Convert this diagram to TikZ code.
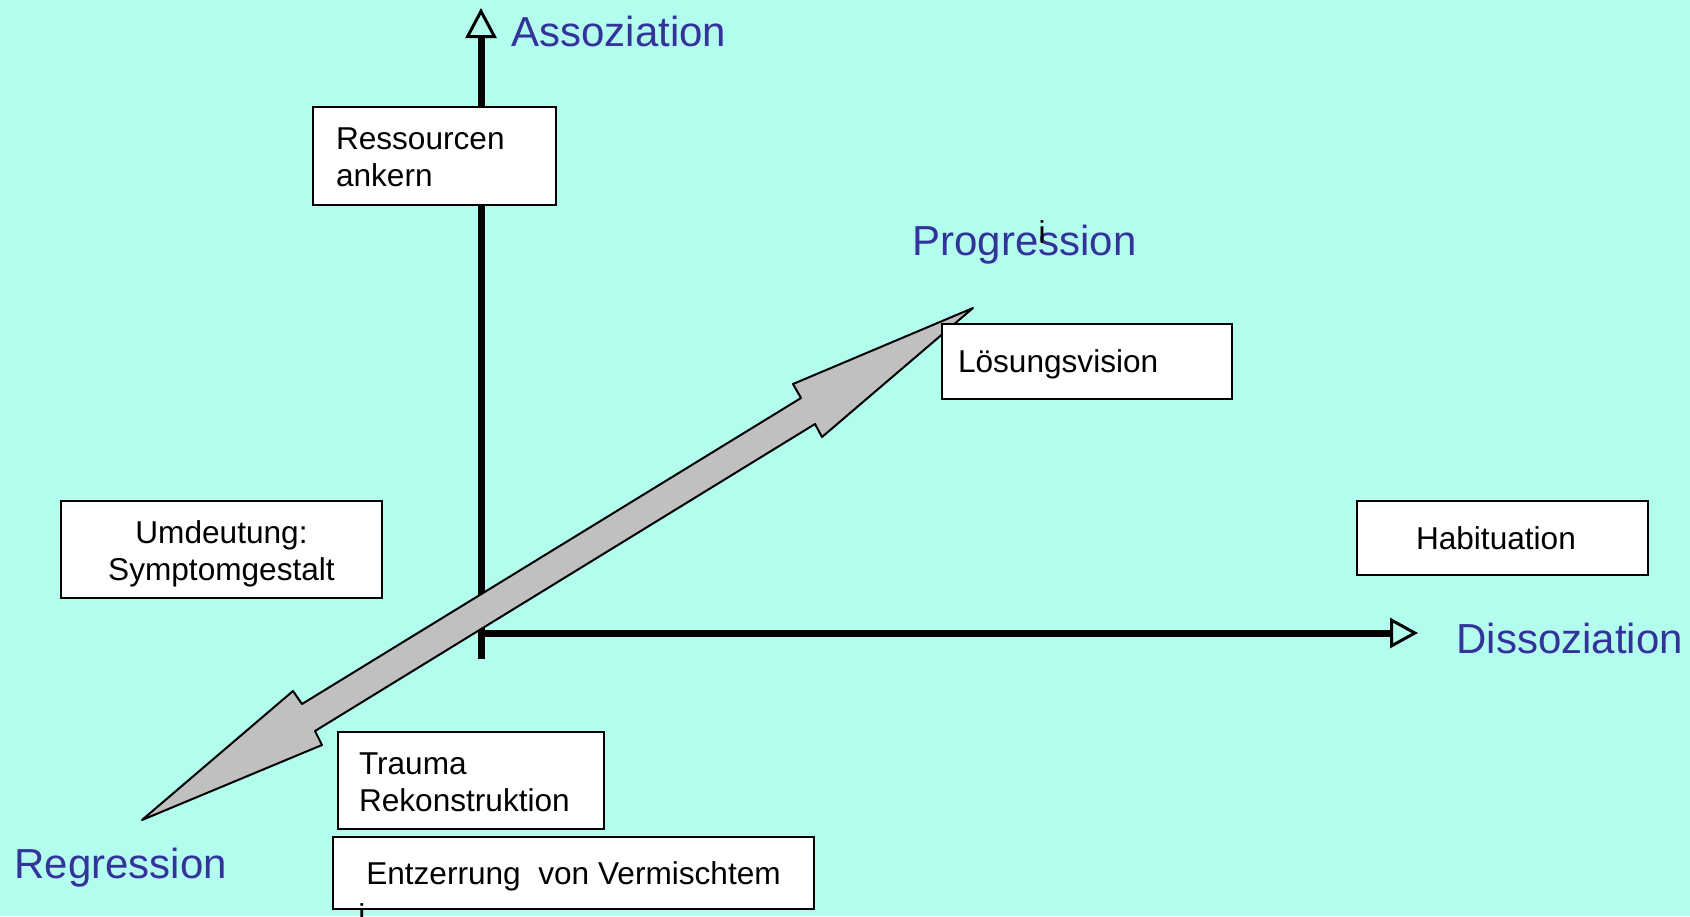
\documentclass[tikz,border=0pt]{standalone}
\usepackage{fontspec}
\setmainfont{Liberation Sans}
\usetikzlibrary{arrows.meta}
\definecolor{bgc}{RGB}{178,253,238}
\definecolor{lblblue}{RGB}{51,51,153}
\definecolor{arrgrey}{RGB}{192,192,192}
\newcommand\topstr{\rule{0pt}{16pt}}
\newcommand\botstr{\rule[-4pt]{0pt}{4pt}}
\begin{document}
\begin{tikzpicture}[x=0.5pt,y=-0.5pt,
  axis/.style={line width=3.5pt},
  box/.style={draw=black, line width=1pt, fill=white, inner ysep=0pt,
    font=\fontsize{15.8}{18.5}\selectfont},
  oneline/.style={text height=11.3pt, text depth=0pt},
  lbl/.style={anchor=base west, inner sep=0pt, text=lblblue,
    font=\fontsize{21}{25}\selectfont},
  stray/.style={anchor=base, inner sep=0pt, font=\fontsize{15.8}{18}\selectfont},
]
\useasboundingbox (0,0) rectangle (1690,916);
\fill[bgc] (0,0) rectangle (1690,916);

% axes
\coordinate (vbot) at (481,659);
\coordinate (vtip) at (481,8);
\coordinate (hstart) at (477.5,633);
\coordinate (htip) at (1418,633);
\draw[axis, -{Triangle[open, length=15pt, width=15.5pt, line width=1.5pt]}] (vbot) -- (vtip);
\draw[axis, -{Triangle[open, length=14pt, width=15pt, line width=1.5pt]}] (hstart) -- (htip);

% grey double arrow
\draw[fill=arrgrey, line width=1pt, line join=round]
  (973,308) -- (793,384) -- (801,398) -- (302,704) -- (293,691) -- (142,820)
  -- (322,745) -- (315,731) -- (815,424) -- (822,437) -- cycle;

% boxes
\node[box, minimum width=121.5pt, minimum height=49pt, inner xsep=11.5pt,
  text width=98.5pt, align=left] (res) at (434.5,156) {\topstr Ressourcen\\ankern\botstr};
\node[box, oneline, minimum width=145pt, minimum height=37.5pt, inner xsep=8pt,
  text width=129pt, align=left] (los) at (1087,361.5) {Lösungsvision};
\node[box, oneline, minimum width=145.5pt, minimum height=37pt, inner xsep=29.5pt,
  text width=86.5pt, align=left] (hab) at (1502.5,538) {Habituation};
\node[box, minimum width=160.5pt, minimum height=48.5pt, inner xsep=10.25pt,
  text width=140pt, align=center] (umd) at (221.5,549.5) {\topstr Umdeutung:\\Symptomgestalt\botstr};
\node[box, minimum width=133pt, minimum height=48.5pt, inner xsep=10.5pt,
  text width=112pt, align=left] (tra) at (471,780.5) {\topstr Trauma\\Rekonstruktion\botstr};
\node[box, oneline, minimum width=240.5pt, minimum height=36pt]
  (ent) at (573.5,873) {Entzerrung\ \ von Vermischtem};

% axis labels
\node[lbl] (ass) at (511,46) {Assoziation};
\node[lbl] (pro) at (912,255) {Progression};
\node[lbl] (dis) at (1456,653) {Dissoziation};
\node[lbl] (reg) at (14,878) {Regression};

% stray glyphs
\node[stray] (cur1) at (1042,243) {i};
\node[stray] (cur2) at (362,926) {i};
\end{tikzpicture}
\end{document}
